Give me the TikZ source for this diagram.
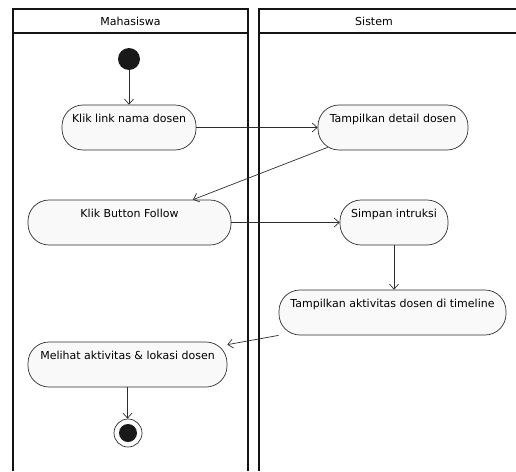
\documentclass[tikz,border=0pt]{standalone}
\usepackage{fontspec}
\setmainfont{DejaVu Sans}
\usepackage{tikz}
\usetikzlibrary{positioning,arrows.meta}
\tikzset{>={Straight Barb[length=5pt,width=9pt]}}
\definecolor{cLane}{RGB}{20,20,20}
\definecolor{cAksi}{RGB}{249,249,249}
\definecolor{cGaris}{RGB}{45,45,45}

\begin{document}
\begin{tikzpicture}[x=1pt, y=-1pt]

% Gaya.
\tikzset{
  aksi/.style={rectangle, rounded corners=21pt, draw=cGaris, fill=cAksi, line width=0.7pt,
    minimum height=45pt, inner xsep=4pt, inner ysep=5pt, text height=12pt, text depth=23pt,
    font=\fontsize{11}{13}\selectfont},
  lanehead/.style={rectangle, minimum height=24pt, font=\fontsize{11}{13}\selectfont},
  lane/.style={draw=cLane, line width=1.8pt},
  alur/.style={->, draw=cGaris, line width=0.7pt}
}

\useasboundingbox (0,0) rectangle (516,471);

% Jalur.
\draw[lane] (13,471) -- (13,9) -- (248,9) -- (248,471);
\draw[lane] (13,33) -- (248,33);
\draw[lane] (259,471) -- (259,9) -- (518,9);
\draw[lane] (259,33) -- (518,33);
\node (mhs) [lanehead] at (130.5,21) {Mahasiswa};
\node (sis) [lanehead] at (374,21) {Sistem};

% Awal dan akhir.
\node (mulai) [circle, fill=black!90, minimum size=22pt, inner sep=0pt] at (129,59) {};
\node (akhir) [circle, draw=cGaris, line width=0.7pt, fill=white, minimum size=28pt, inner sep=0pt] at (128,433) {};
\node (akhirdot) [circle, fill=black!90, minimum size=18pt, inner sep=0pt] at (akhir) {};

% Aktivitas.
\node (klik)    [aksi, minimum width=134pt] at (129,127.5)   {Klik link nama dosen};
\node (detail)  [aksi, minimum width=150pt] at (393,127.5)   {Tampilkan detail dosen};
\node (follow)  [aksi, minimum width=203pt] at (129.5,222.5) {Klik Button Follow};
\node (simpan)  [aksi, minimum width=108pt] at (394,222.5)   {Simpan intruksi};
\node (tampil)  [aksi, minimum width=227pt] at (392.5,312.5) {Tampilkan aktivitas dosen di timeline};
\node (lihat)   [aksi, minimum width=199pt] at (127.5,364.5) {Melihat aktivitas \& lokasi dosen};

% Alur.
\draw[alur] (mulai) -- (klik);
\draw[alur] (klik) -- (detail);
\draw[alur] ([xshift=10pt,yshift=3pt]detail.south west) -- ([xshift=63.5pt]follow.north);
\draw[alur] (follow) -- (simpan);
\draw[alur] (simpan.south) -- (simpan.south |- tampil.north);
\draw[alur] (tampil.south west) -- ([yshift=-3pt]lihat.north east);
\draw[alur] (lihat.south) -- (lihat.south |- akhir.north);

\end{tikzpicture}
\end{document}
